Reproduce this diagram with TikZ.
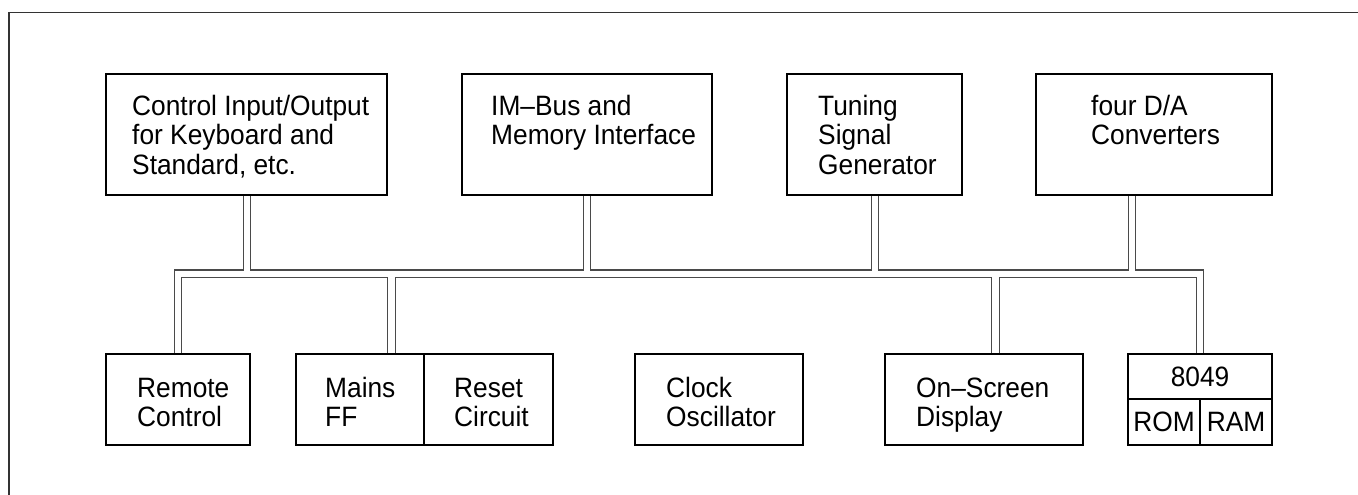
\documentclass[tikz,border=0pt]{standalone}
\usepackage{fontspec}
\setmainfont{Liberation Sans}[FakeStretch=0.94]
\newcommand\bfsz{\fontsize{28}{29.2}\selectfont}
\newcommand\fstrut{\rule{0pt}{21pt}}
\definecolor{busgray}{HTML}{4A4A4A}
\definecolor{framegray}{HTML}{333333}
\tikzset{
  blk/.style={draw=black, line width=2.2pt, inner sep=0pt, anchor=north west, rectangle},
  txt/.style={anchor=north west, inner sep=0pt, align=left, font=\bfsz},
  celltxt/.style={font=\bfsz},
  bus/.style={draw=busgray, line width=1.1pt},
  frame/.style={draw=framegray, line width=1.3pt}
}
\begin{document}
\begin{tikzpicture}[x=1pt, y=-1pt]
\useasboundingbox (0,0) rectangle (1358,495);
\draw[frame] (9,495) -- (9,12.5) -- (1358,12.5);

% top row
\node[blk, minimum width=281, minimum height=121] (ctrl) at (105,73) {};
\node[blk, minimum width=250, minimum height=121] (im) at (461,73) {};
\node[blk, minimum width=175, minimum height=121] (tu) at (786,73) {};
\node[blk, minimum width=236, minimum height=121] (da) at (1035,73) {};

\node[txt] (ctrlt) at (132,94.5) {\fstrut Control Input/Output\\for Keyboard and\\Standard, etc.};
\node[txt] (imt) at (491,94.5) {\fstrut IM–Bus and\\Memory Interface};
\node[txt] (tut) at (818,94.5) {\fstrut Tuning\\Signal\\Generator};
\node[txt] (dat) at (1091,94.5) {\fstrut four D/A\\Converters};

% bottom row
\node[blk, minimum width=144, minimum height=91] (rc) at (105,353) {};
\node[blk, minimum width=128, minimum height=91] (mf) at (295,353) {};
\node[blk, minimum width=129, minimum height=91] (rs) at (423,353) {};
\node[blk, minimum width=168, minimum height=91] (co) at (634,353) {};
\node[blk, minimum width=198, minimum height=91] (os) at (884,353) {};
\node[blk, minimum width=144, minimum height=45] (m8) at (1127,353) {};
\node[blk, minimum width=72, minimum height=46] (rom) at (1127,398) {};
\node[blk, minimum width=72, minimum height=46] (ram) at (1199,398) {};

\node[txt] (rct) at (137,376) {\fstrut Remote\\Control};
\node[txt] (mft) at (325,376) {\fstrut Mains\\FF};
\node[txt] (rst) at (454,376) {\fstrut Reset\\Circuit};
\node[txt] (cot) at (666,376) {\fstrut Clock\\Oscillator};
\node[txt] (ost) at (916,376) {\fstrut On–Screen\\Display};
\node[celltxt] at (m8.center) {8049};
\node[celltxt] at (rom.center) {ROM};
\node[celltxt] at (ram.center) {RAM};

% bus levels
\coordinate (busA) at (0,270);
\coordinate (busB) at (0,277.5);

% attachment points
\coordinate (c1) at ([xshift=-3.5]ctrl.south);
\coordinate (c2) at ([xshift=3.5]ctrl.south);
\coordinate (i1) at ([xshift=-3.5]im.south);
\coordinate (i2) at ([xshift=3.5]im.south);
\coordinate (t1) at ([xshift=-3.5]tu.south);
\coordinate (t2) at ([xshift=3.5]tu.south);
\coordinate (d1) at ([xshift=-26]da.south);
\coordinate (d2) at ([xshift=-19]da.south);
\coordinate (r1) at ([xshift=-3.75]rc.north);
\coordinate (r2) at ([xshift=3.75]rc.north);
\coordinate (f1) at ([xshift=-38]mf.north east);
\coordinate (f2) at ([xshift=-30]mf.north east);
\coordinate (o1) at ([xshift=7]os.north);
\coordinate (o2) at ([xshift=15]os.north);
\coordinate (e1) at ([xshift=-3.75]m8.north);
\coordinate (e2) at ([xshift=3.75]m8.north);

% upper bus line
\draw[bus] (c1) |- (busA -| r1) -- (r1);
\draw[bus] (c2) |- (busA -| i1) -- (i1);
\draw[bus] (i2) |- (busA -| t1) -- (t1);
\draw[bus] (t2) |- (busA -| d1) -- (d1);
\draw[bus] (d2) |- (busA -| e2) -- (e2);
% lower bus line
\draw[bus] (r2) |- (busB -| f1) -- (f1);
\draw[bus] (f2) |- (busB -| o1) -- (o1);
\draw[bus] (o2) |- (busB -| e1) -- (e1);
\end{tikzpicture}
\end{document}
